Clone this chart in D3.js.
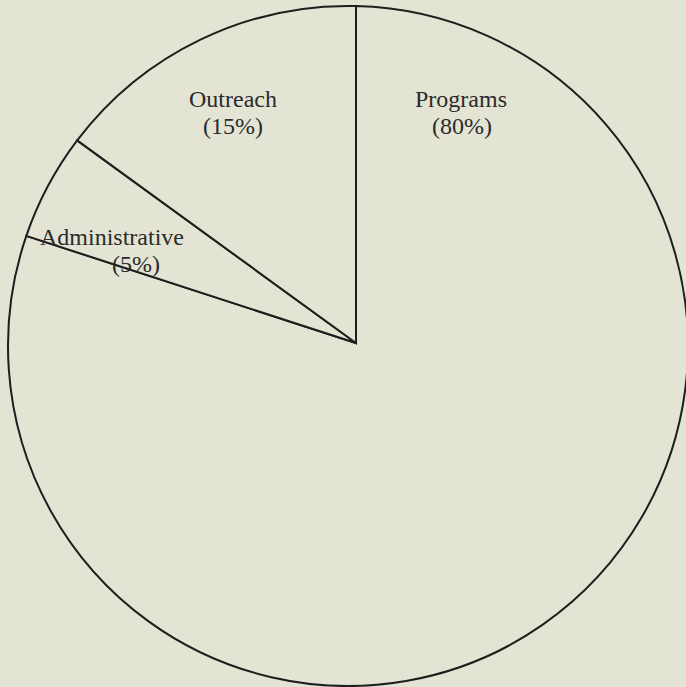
<!DOCTYPE html>
<html>
<head>
<meta charset="utf-8">
<script src="https://cdnjs.cloudflare.com/ajax/libs/d3/7.8.5/d3.min.js"></script>
<style>
  html, body { margin: 0; padding: 0; background: #e4e4d4; }
  svg { display: block; }
</style>
</head>
<body>
<div id="chart"></div>
<script>
// data
var categories = ['Programs', 'Administrative', 'Outreach'];
var shares = [80, 5, 15];
var pctLabels = ['(80%)', '(5%)', '(15%)'];

// where the two text lines of each label sit (centre x, baseline y)
var labelPos = [
  {x: 461, y: 107, x2: 462, y2: 134},
  {x: 112, y: 245, x2: 136, y2: 272},
  {x: 233, y: 107, x2: 233, y2: 134}
];

var width = 686, height = 687;
var ring = {cx: 348, cy: 346, r: 340};   // outer circle
var hub = {x: 356, y: 343};               // where the slices meet

var svg = d3.select('#chart')
  .append('svg')
  .attr('width', width)
  .attr('height', height);

svg.append('rect')
  .attr('width', width)
  .attr('height', height)
  .attr('fill', '#e4e4d4');

var pie = d3.pie().sort(null).value(function(d){ return d.value; });
var slices = pie(categories.map(function(c, i){ return {name: c, value: shares[i]}; }));

// point on the outer circle hit by a ray leaving the hub at angle a (clockwise from 12 o'clock)
function edgePoint(a) {
  var dx = Math.sin(a), dy = -Math.cos(a);
  var wx = hub.x - ring.cx, wy = hub.y - ring.cy;
  var b = wx * dx + wy * dy;
  var t = -b + Math.sqrt(b * b - (wx * wx + wy * wy) + ring.r * ring.r);
  return [hub.x + t * dx, hub.y + t * dy];
}

function slicePath(d) {
  var p0 = edgePoint(d.startAngle), p1 = edgePoint(d.endAngle);
  var a0 = Math.atan2(p0[0] - ring.cx, -(p0[1] - ring.cy));
  var a1 = Math.atan2(p1[0] - ring.cx, -(p1[1] - ring.cy));
  var sweep = a1 - a0;
  if (sweep <= 0) sweep += 2 * Math.PI;
  var large = sweep > Math.PI ? 1 : 0;
  return 'M' + hub.x + ',' + hub.y +
    'L' + p0[0] + ',' + p0[1] +
    'A' + ring.r + ',' + ring.r + ' 0 ' + large + ' 1 ' + p1[0] + ',' + p1[1] + 'Z';
}

svg.selectAll('.slice')
  .data(slices)
  .enter()
  .append('path')
    .classed('slice', 1)
    .attr('d', slicePath)
    .attr('fill', '#e4e4d4')
    .attr('stroke', '#1e1e1e')
    .attr('stroke-width', 2)
    .attr('stroke-linejoin', 'miter');

var labels = svg.selectAll('.label')
  .data(slices)
  .enter()
  .append('g')
    .classed('label', 1)
    .attr('font-family', '"Liberation Serif", "Times New Roman", serif')
    .attr('font-size', 24)
    .attr('fill', '#2b2b2b')
    .attr('text-anchor', 'middle');

labels.append('text')
  .attr('x', function(d, i){ return labelPos[i].x; })
  .attr('y', function(d, i){ return labelPos[i].y; })
  .text(function(d){ return d.data.name; });

labels.append('text')
  .attr('x', function(d, i){ return labelPos[i].x2; })
  .attr('y', function(d, i){ return labelPos[i].y2; })
  .text(function(d, i){ return pctLabels[i]; });
</script>
</body>
</html>
